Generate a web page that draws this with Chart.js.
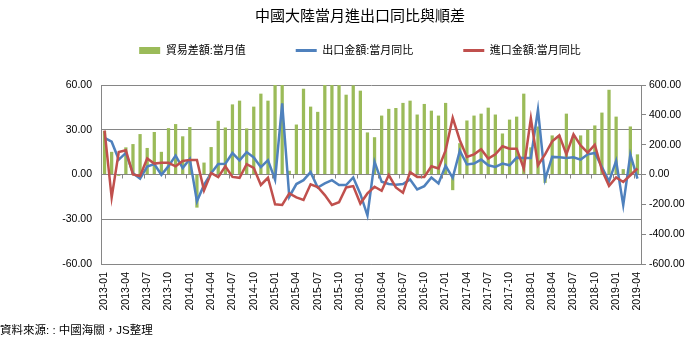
<!DOCTYPE html>
<html>
<head>
<meta charset="utf-8">
<script src="https://cdn.jsdelivr.net/npm/chart.js@4.4.1/dist/chart.umd.min.js"></script>
<style>
  body { margin: 0; background: #fff; }
  #wrap { position: relative; width: 698px; height: 341px; }
  #source {
    position: absolute; left: 0; top: 321px;
    font: 11.5px "Liberation Sans", "Noto Sans CJK TC", sans-serif; color: #000;
  }
</style>
</head>
<body>
<div id="wrap">
  <canvas id="chart" width="698" height="341"></canvas>
  <div id="source">資料來源: : 中國海關，JS整理</div>
</div>
<script>
// 月份
const months = [
  "2013-01","2013-02","2013-03","2013-04","2013-05","2013-06","2013-07","2013-08","2013-09","2013-10","2013-11","2013-12",
  "2014-01","2014-02","2014-03","2014-04","2014-05","2014-06","2014-07","2014-08","2014-09","2014-10","2014-11","2014-12",
  "2015-01","2015-02","2015-03","2015-04","2015-05","2015-06","2015-07","2015-08","2015-09","2015-10","2015-11","2015-12",
  "2016-01","2016-02","2016-03","2016-04","2016-05","2016-06","2016-07","2016-08","2016-09","2016-10","2016-11","2016-12",
  "2017-01","2017-02","2017-03","2017-04","2017-05","2017-06","2017-07","2017-08","2017-09","2017-10","2017-11","2017-12",
  "2018-01","2018-02","2018-03","2018-04","2018-05","2018-06","2018-07","2018-08","2018-09","2018-10","2018-11","2018-12",
  "2019-01","2019-02","2019-03","2019-04"
];

// 貿易差額:當月值 (右軸)
const tradeBalance = [
  292, 152, -9, 182, 204, 271, 178, 285, 152, 311, 338, 256,
  318, -222, 80, 184, 360, 315, 470, 495, 309, 455, 542, 495,
  600, 606, 25, 335, 575, 455, 420, 602, 603, 614, 535, 598,
  562, 282, 250, 395, 440, 446, 480, 495, 402, 473, 428, 395,
  480, -105, 210, 362, 395, 408, 448, 402, 275, 368, 388, 542,
  182, 322, -56, 262, 262, 408, 262, 262, 300, 329, 415, 568,
  388, 36, 322, 135
];

// 出口金額:當月同比 (左軸)
const exportYoY = [
  24.6, 22.0, 10.0, 14.5, 0.8, -2.8, 5.3, 7.0, -0.2, 5.6, 12.7, 4.3,
  10.4, -18.0, -7.0, 0.8, 7.0, 7.2, 14.4, 9.5, 15.0, 11.4, 4.9, 9.6,
  -3.5, 47.7, -14.9, -6.4, -3.8, 1.6, -8.7, -6.0, -3.8, -7.1, -7.1, -2.0,
  -13.0, -27.5, 8.5, -4.9, -6.4, -6.9, -6.4, -3.3, -10.0, -7.8, -2.0, -6.0,
  5.8, -2.2, 16.0, 6.7, 7.3, 10.0, 6.2, 5.1, 7.3, 6.2, 11.3, 11.1,
  11.1, 43.5, -3.2, 11.8, 11.6, 11.1, 11.5, 10.0, 13.5, 14.4, 5.0, -4.6,
  9.1, -20.5, 13.5, -2.7
];

// 進口金額:當月同比 (左軸)
const importYoY = [
  29.5, -15.3, 15.1, 16.2, 0.0, -1.0, 10.7, 7.3, 7.8, 7.8, 5.5, 9.1,
  9.8, 9.7, -10.6, 1.0, -1.8, 5.5, -1.6, -2.2, 6.9, 4.4, -7.0, -2.2,
  -20.0, -20.4, -12.7, -15.3, -17.1, -6.6, -8.4, -13.8, -20.4, -18.6, -8.7, -7.8,
  -19.5, -12.7, -8.2, -10.9, -0.4, -8.7, -12.2, 1.6, -1.6, -1.6, 5.5, 4.0,
  16.2, 38.0, 23.0, 11.8, 13.5, 16.9, 10.7, 13.5, 18.9, 17.3, 17.3, 4.0,
  37.7, 6.2, 13.5, 22.2, 26.2, 13.5, 26.9, 19.5, 14.7, 20.0, 3.0, -7.6,
  -2.0, -5.0, -0.5, 4.0
];

const FONT = '"Liberation Sans", "Noto Sans CJK TC", sans-serif';
const GRID = "#868686";

// 零軸上的刻度 (每三個月)
const zeroTicks = {
  id: "zeroTicks",
  afterDatasetsDraw(chart) {
    const x = chart.scales.x, y = chart.scales.y;
    const y0 = y.getPixelForValue(0);
    const ctx = chart.ctx;
    ctx.save();
    ctx.strokeStyle = GRID;
    ctx.lineWidth = 1;
    ctx.beginPath();
    for (let k = 3; k < months.length; k += 3) {
      const px = Math.round((x.getPixelForValue(k - 1) + x.getPixelForValue(k)) / 2) + 0.5;
      ctx.moveTo(px, y0);
      ctx.lineTo(px, y0 + 4);
    }
    ctx.stroke();
    ctx.restore();
  }
};

new Chart(document.getElementById("chart"), {
  data: {
    labels: months,
    datasets: [
      {
        type: "bar",
        label: "貿易差額:當月值",
        data: tradeBalance,
        yAxisID: "y1",
        backgroundColor: "#9BBB59",
        borderWidth: 0,
        barPercentage: 0.46,
        categoryPercentage: 1,
        pointStyle: "rect",
        order: 3
      },
      {
        type: "line",
        label: "出口金額:當月同比",
        data: exportYoY,
        yAxisID: "y",
        borderColor: "#4F81BD",
        backgroundColor: "#4F81BD",
        borderWidth: 2.5,
        pointRadius: 0,
        pointStyle: "line",
        pointBorderColor: "#4F81BD",
        pointBorderWidth: 3,
        tension: 0,
        order: 2
      },
      {
        type: "line",
        label: "進口金額:當月同比",
        data: importYoY,
        yAxisID: "y",
        borderColor: "#C0504D",
        backgroundColor: "#C0504D",
        borderWidth: 2.5,
        pointRadius: 0,
        pointStyle: "line",
        pointBorderColor: "#C0504D",
        pointBorderWidth: 3,
        tension: 0,
        order: 1
      }
    ]
  },
  options: {
    responsive: false,
    animation: false,
    layout: { padding: { left: 22, right: 0, top: 0, bottom: 0 } },
    plugins: {
      title: {
        display: true,
        text: "中國大陸當月進出口同比與順差",
        color: "#000",
        font: { family: FONT, size: 15, weight: "normal" },
        padding: { top: 8, bottom: 2 }
      },
      subtitle: {
        display: true,
        text: "",
        weight: 500,
        font: { size: 10 },
        padding: { top: 7, bottom: 0 }
      },
      legend: {
        position: "top",
        labels: {
          color: "#000",
          font: { family: FONT, size: 11 },
          usePointStyle: true,
          pointStyleWidth: 21,
          boxHeight: 7,
          padding: 17,
          sort: (a, b) => a.datasetIndex - b.datasetIndex,
          generateLabels(chart) {
            const items = Chart.defaults.plugins.legend.labels.generateLabels(chart);
            items.forEach((it) => {
              if (it.datasetIndex < 2) it.text += "\u3000\u3000\u3000";
            });
            return items;
          }
        }
      },
      tooltip: { enabled: false }
    },
    scales: {
      x: {
        grid: { display: false, drawTicks: false },
        border: { display: true, color: GRID },
        ticks: {
          autoSkip: false,
          minRotation: 90,
          maxRotation: 90,
          padding: 8,
          color: "#000",
          font: { family: FONT, size: 10.5 },
          callback: (v, i) => (i % 3 === 0 ? months[i] : "")
        },
        afterFit(scale) { scale.height = 77; }
      },
      y: {
        position: "left",
        min: -60,
        max: 60,
        grid: { color: GRID, drawTicks: false },
        border: { color: GRID },
        ticks: {
          stepSize: 30,
          padding: 9,
          color: "#000",
          font: { family: FONT, size: 10.5 },
          callback: (v) => v.toFixed(2)
        },
        afterFit(scale) { scale.width = 79; }
      },
      y1: {
        position: "right",
        min: -600,
        max: 600,
        grid: { drawOnChartArea: false, color: GRID, tickLength: 5 },
        border: { color: GRID },
        ticks: {
          stepSize: 200,
          padding: 3,
          color: "#000",
          font: { family: FONT, size: 10.5 },
          callback: (v) => v.toFixed(2)
        },
        afterFit(scale) { scale.width = 57; }
      }
    }
  },
  plugins: [zeroTicks]
});
</script>
</body>
</html>
